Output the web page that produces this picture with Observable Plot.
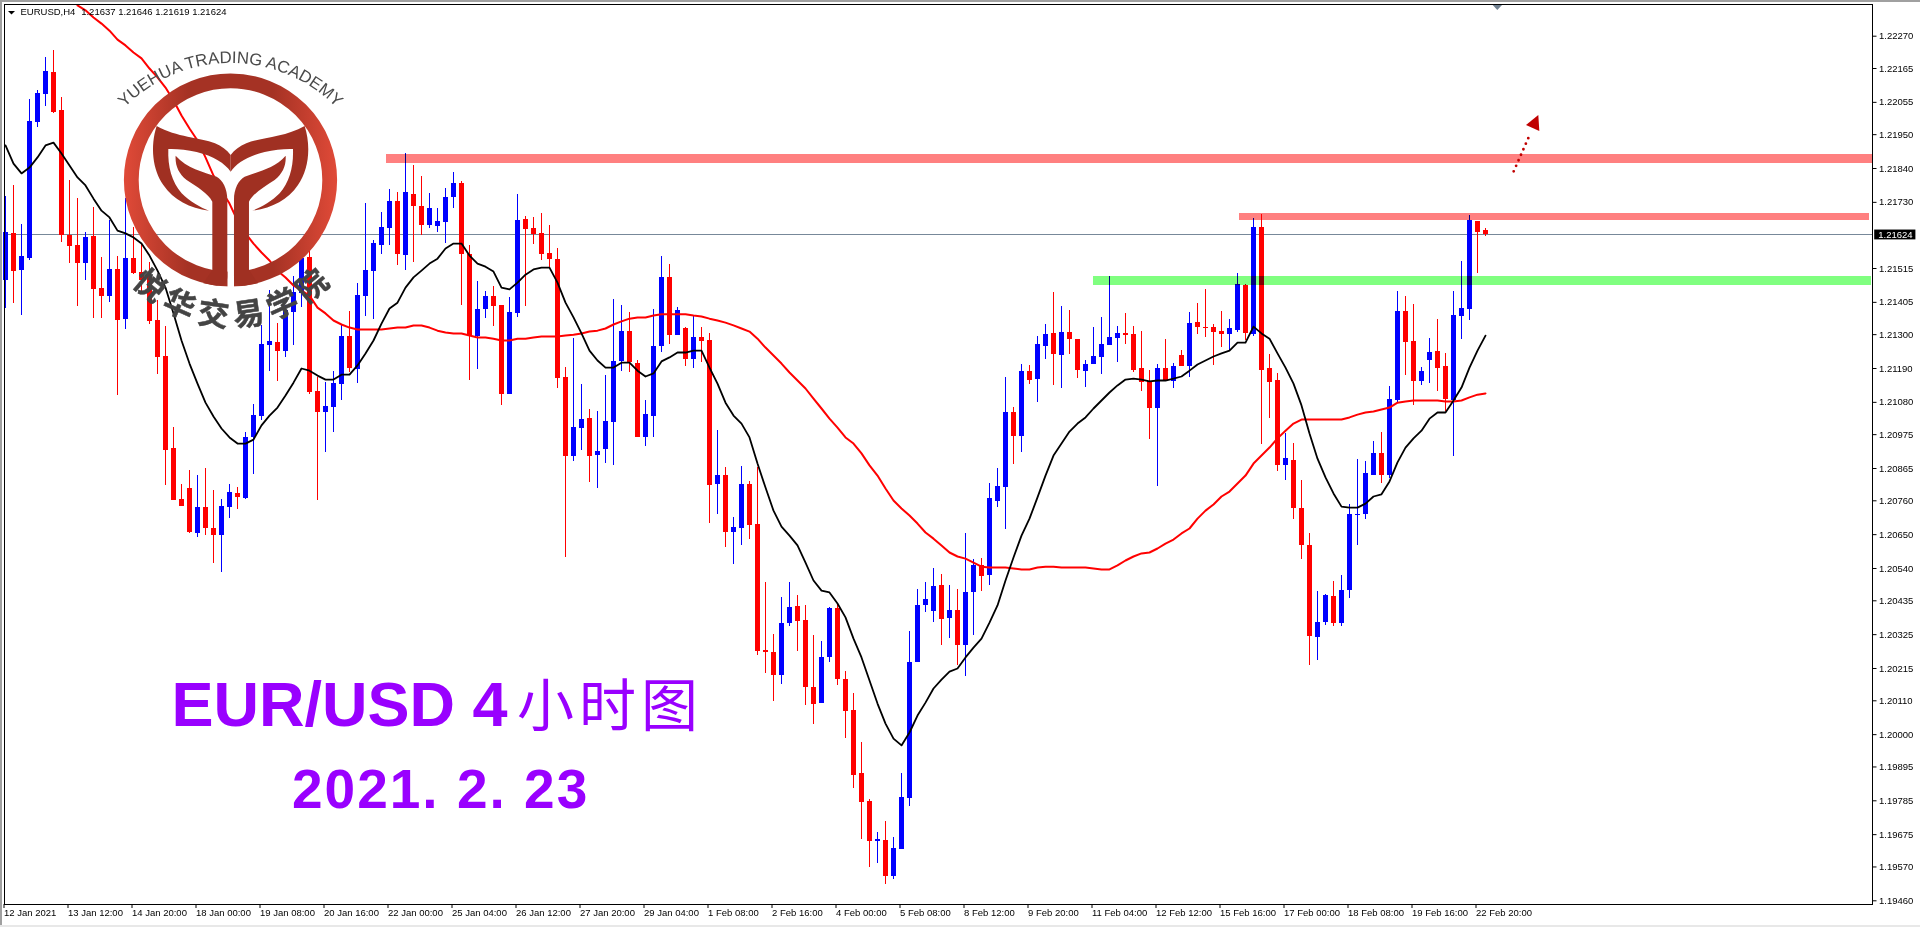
<!DOCTYPE html>
<html><head><meta charset="utf-8">
<style>html,body{margin:0;padding:0;background:#fff;overflow:hidden}
#chrome-top{position:absolute;left:0;top:0;width:1920px;height:2px;background:#a0a0a0}
#chrome-left{position:absolute;left:0;top:0;width:2px;height:927px;background:#a0a0a0}
#chrome-bottom{position:absolute;left:0;top:925px;width:1920px;height:2px;background:#e8e8e8}
svg{display:block}</style>
<script src="https://cdn.jsdelivr.net/npm/d3@7"></script>
<script src="https://cdn.jsdelivr.net/npm/@observablehq/plot@0.6"></script>
</head><body><div id="chart"></div><div id="chrome-top"></div><div id="chrome-left"></div><div id="chrome-bottom"></div>
<script>
const opens=[1.21476,1.21629,1.21508,1.21547,1.21989,1.22080,1.22152,1.22028,1.21622,1.21590,
1.21531,1.21619,1.21450,1.21424,1.21512,1.21349,1.21547,1.21502,1.21489,1.21346,
1.21229,1.20930,1.20764,1.20800,1.20654,1.20738,1.20670,1.20647,1.20738,1.20784,
1.20767,1.20966,1.21034,1.21265,1.21274,1.21245,1.21372,1.21434,1.21551,1.21115,
1.21047,1.21063,1.21138,1.21294,1.21187,1.21424,1.21505,1.21590,1.21645,1.21733,
1.21557,1.21755,1.21716,1.21655,1.21651,1.21664,1.21746,1.21791,1.21560,1.21294,
1.21382,1.21424,1.21395,1.21105,1.21369,1.21674,1.21645,1.21629,1.21564,1.21544,
1.21161,1.20904,1.20995,1.21027,1.20907,1.20927,1.21014,1.21213,1.21310,1.21206,
1.20966,1.21034,1.21261,1.21486,1.21297,1.21320,1.21219,1.21291,1.21281,1.20813,
1.20842,1.20657,1.20670,1.20813,1.20683,1.20273,1.20267,1.20192,1.20361,1.20416,
1.20371,1.20153,1.20101,1.20251,1.20410,1.20179,1.20078,1.19874,1.19783,1.19653,
1.19656,1.19539,1.19627,1.19792,1.20234,1.20420,1.20400,1.20485,1.20377,1.20403,
1.20290,1.20462,1.20550,1.20517,1.20758,1.20803,1.21047,1.20969,1.21180,1.21154,
1.21261,1.21304,1.21232,1.21307,1.21284,1.21180,1.21203,1.21226,1.21265,1.21287,
1.21304,1.21300,1.21190,1.21148,1.21060,1.21190,1.21148,1.21232,1.21196,1.21339,
1.21323,1.21323,1.21310,1.21300,1.21313,1.21460,1.21300,1.21648,1.21190,1.21151,
1.20875,1.20891,1.20735,1.20615,1.20316,1.20364,1.20449,1.20361,1.20468,1.20712,
1.20715,1.20842,1.20914,1.20842,1.21086,1.21375,1.21278,1.21148,1.21216,1.21245,
1.21196,1.21086,1.21359,1.21382,1.21668,1.21637];
const closes=[1.21632,1.21505,1.21554,1.21993,1.22084,1.22155,1.22022,1.21622,1.21586,1.21531,
1.21616,1.21447,1.21424,1.21512,1.21346,1.21547,1.21499,1.21476,1.21343,1.21226,
1.20923,1.20761,1.20741,1.20657,1.20738,1.20670,1.20647,1.20741,1.20787,1.20771,
1.20966,1.21037,1.21268,1.21278,1.21245,1.21378,1.21437,1.21547,1.21112,1.21047,
1.21066,1.21141,1.21294,1.21190,1.21427,1.21508,1.21596,1.21648,1.21733,1.21560,
1.21762,1.21716,1.21655,1.21710,1.21668,1.21746,1.21791,1.21560,1.21294,1.21382,
1.21424,1.21391,1.21105,1.21372,1.21671,1.21642,1.21625,1.21560,1.21544,1.21157,
1.20904,1.20998,1.21024,1.20904,1.20920,1.21018,1.21213,1.21310,1.21209,1.20966,
1.21040,1.21261,1.21486,1.21297,1.21378,1.21219,1.21291,1.21278,1.20810,1.20842,
1.20657,1.20673,1.20813,1.20680,1.20270,1.20267,1.20192,1.20361,1.20413,1.20368,
1.20153,1.20098,1.20251,1.20410,1.20179,1.20075,1.19867,1.19779,1.19653,1.19659,
1.19539,1.19630,1.19796,1.20234,1.20420,1.20439,1.20481,1.20374,1.20403,1.20290,
1.20462,1.20550,1.20514,1.20767,1.20806,1.21047,1.20969,1.21180,1.21151,1.21268,
1.21300,1.21235,1.21307,1.21284,1.21183,1.21203,1.21229,1.21268,1.21291,1.21304,
1.21297,1.21183,1.21144,1.21060,1.21190,1.21151,1.21196,1.21196,1.21336,1.21323,
1.21320,1.21307,1.21300,1.21320,1.21463,1.21304,1.21648,1.21183,1.21144,1.20875,
1.20897,1.20735,1.20615,1.20319,1.20364,1.20452,1.20361,1.20468,1.20715,1.20715,
1.20849,1.20914,1.20842,1.21089,1.21375,1.21274,1.21148,1.21180,1.21242,1.21190,
1.21089,1.21362,1.21385,1.21671,1.21632,1.21624];
const highs=[1.21749,1.21785,1.21658,1.22064,1.22093,1.22201,1.22223,1.22071,1.21801,1.21742,
1.21632,1.21713,1.21551,1.21671,1.21554,1.21742,1.21648,1.21593,1.21534,1.21411,
1.21326,1.20998,1.20813,1.20858,1.20842,1.20865,1.20793,1.20764,1.20813,1.20803,
1.20982,1.21073,1.21330,1.21443,1.21336,1.21395,1.21489,1.21573,1.21573,1.21161,
1.21144,1.21180,1.21330,1.21375,1.21466,1.21726,1.21606,1.21697,1.21772,1.21762,
1.21889,1.21850,1.21814,1.21759,1.21710,1.21775,1.21827,1.21798,1.21590,1.21473,
1.21440,1.21456,1.21395,1.21421,1.21755,1.21684,1.21681,1.21694,1.21655,1.21580,
1.21193,1.21287,1.21138,1.21057,1.21050,1.21167,1.21414,1.21395,1.21372,1.21216,
1.21086,1.21382,1.21554,1.21528,1.21388,1.21323,1.21359,1.21323,1.21304,1.20988,
1.20868,1.20706,1.20871,1.20823,1.20868,1.20494,1.20325,1.20446,1.20494,1.20452,
1.20420,1.20322,1.20303,1.20413,1.20426,1.20205,1.20134,1.19974,1.19789,1.19682,
1.19718,1.19666,1.19874,1.20335,1.20472,1.20494,1.20540,1.20520,1.20485,1.20472,
1.20654,1.20569,1.20572,1.20816,1.20865,1.21161,1.21063,1.21203,1.21200,1.21294,
1.21333,1.21437,1.21391,1.21378,1.21284,1.21216,1.21323,1.21356,1.21489,1.21326,
1.21369,1.21326,1.21310,1.21183,1.21203,1.21284,1.21206,1.21248,1.21372,1.21401,
1.21447,1.21333,1.21375,1.21349,1.21499,1.21463,1.21677,1.21690,1.21235,1.21174,
1.20979,1.20946,1.20826,1.20654,1.20465,1.20455,1.20498,1.20517,1.20748,1.20894,
1.20888,1.20953,1.20982,1.21131,1.21440,1.21424,1.21398,1.21193,1.21287,1.21349,
1.21239,1.21440,1.21538,1.21687,1.21668,1.21646];
const lows=[1.21385,1.21401,1.21362,1.21541,1.21973,1.22041,1.22019,1.21599,1.21531,1.21391,
1.21476,1.21352,1.21352,1.21404,1.21102,1.21317,1.21495,1.21434,1.21333,1.21170,
1.20810,1.20761,1.20741,1.20654,1.20641,1.20647,1.20556,1.20527,1.20702,1.20732,
1.20764,1.20845,1.21021,1.21180,1.21148,1.21226,1.21265,1.21388,1.21105,1.20761,
1.20917,1.20982,1.21086,1.21177,1.21141,1.21359,1.21349,1.21560,1.21590,1.21525,
1.21508,1.21534,1.21622,1.21645,1.21632,1.21596,1.21710,1.21395,1.21151,1.21187,
1.21352,1.21326,1.21070,1.21105,1.21356,1.21391,1.21593,1.21541,1.21515,1.21125,
1.20576,1.20888,1.20923,1.20819,1.20800,1.20881,1.20875,1.21180,1.21177,1.20966,
1.20936,1.20966,1.21242,1.21268,1.21297,1.21196,1.21190,1.21209,1.20686,1.20715,
1.20608,1.20553,1.20615,1.20634,1.20257,1.20199,1.20108,1.20163,1.20351,1.20270,
1.20095,1.20033,1.20101,1.20234,1.20160,1.19987,1.19825,1.19659,1.19568,1.19581,
1.19513,1.19529,1.19627,1.19766,1.20234,1.20397,1.20364,1.20290,1.20312,1.20225,
1.20189,1.20322,1.20465,1.20485,1.20738,1.20667,1.20878,1.20917,1.21138,1.21079,
1.21219,1.21135,1.21125,1.21235,1.21157,1.21128,1.21203,1.21170,1.21265,1.21209,
1.21268,1.21177,1.21115,1.20959,1.20806,1.21151,1.21125,1.21196,1.21161,1.21300,
1.21291,1.21200,1.21258,1.21248,1.21307,1.21281,1.21294,1.20943,1.21027,1.20855,
1.20826,1.20699,1.20569,1.20225,1.20241,1.20355,1.20351,1.20351,1.20442,1.20615,
1.20699,1.20842,1.20816,1.20832,1.21079,1.21167,1.21070,1.21135,1.21141,1.21115,
1.21050,1.20904,1.21284,1.21346,1.21499,1.21619];
const maBlack=[1.21915,1.21856,1.21824,1.21843,1.21876,1.21915,1.21924,1.21889,1.21850,1.21811,
1.21785,1.21742,1.21703,1.21681,1.21638,1.21629,1.21616,1.21596,1.21557,1.21508,
1.21453,1.21369,1.21281,1.21206,1.21141,1.21079,1.21034,1.20995,1.20966,1.20946,
1.20946,1.20959,1.21005,1.21037,1.21063,1.21102,1.21144,1.21190,1.21183,1.21167,
1.21154,1.21154,1.21170,1.21170,1.21200,1.21239,1.21281,1.21336,1.21385,1.21404,
1.21453,1.21486,1.21508,1.21531,1.21547,1.21580,1.21596,1.21596,1.21557,1.21531,
1.21521,1.21505,1.21453,1.21447,1.21469,1.21495,1.21512,1.21518,1.21518,1.21469,
1.21404,1.21356,1.21304,1.21248,1.21216,1.21193,1.21193,1.21209,1.21209,1.21183,
1.21164,1.21174,1.21213,1.21226,1.21242,1.21242,1.21248,1.21248,1.21193,1.21141,
1.21079,1.21037,1.21011,1.20966,1.20881,1.20803,1.20728,1.20676,1.20647,1.20615,
1.20559,1.20501,1.20468,1.20462,1.20426,1.20381,1.20312,1.20251,1.20176,1.20101,
1.20036,1.19987,1.19965,1.20007,1.20062,1.20104,1.20150,1.20179,1.20205,1.20215,
1.20251,1.20283,1.20312,1.20364,1.20420,1.20501,1.20576,1.20647,1.20702,1.20771,
1.20842,1.20907,1.20946,1.20985,1.21011,1.21031,1.21060,1.21086,1.21112,1.21135,
1.21154,1.21157,1.21154,1.21148,1.21151,1.21151,1.21157,1.21164,1.21183,1.21203,
1.21216,1.21229,1.21239,1.21248,1.21274,1.21274,1.21326,1.21304,1.21287,1.21239,
1.21193,1.21141,1.21070,1.20979,1.20897,1.20836,1.20784,1.20741,1.20738,1.20738,
1.20751,1.20774,1.20781,1.20823,1.20885,1.20933,1.20963,1.20988,1.21027,1.21047,
1.21047,1.21086,1.21128,1.21193,1.21248,1.21297];
const maRedStart=9;
const maRed=[1.22370,1.22354,1.22331,1.22311,1.22288,1.22259,1.22240,1.22217,1.22198,1.22165,
1.22136,1.22103,1.22061,1.22012,1.21970,1.21931,1.21876,1.21817,1.21768,1.21726,
1.21671,1.21629,1.21596,1.21567,1.21541,1.21508,1.21486,1.21460,1.21443,1.21427,
1.21388,1.21369,1.21346,1.21333,1.21323,1.21317,1.21317,1.21317,1.21317,1.21320,
1.21323,1.21323,1.21330,1.21330,1.21323,1.21313,1.21307,1.21304,1.21304,1.21297,
1.21291,1.21291,1.21287,1.21281,1.21281,1.21287,1.21287,1.21291,1.21294,1.21294,
1.21294,1.21297,1.21300,1.21304,1.21310,1.21313,1.21320,1.21333,1.21343,1.21352,
1.21356,1.21356,1.21362,1.21366,1.21366,1.21366,1.21366,1.21362,1.21359,1.21352,
1.21346,1.21339,1.21330,1.21320,1.21310,1.21287,1.21258,1.21232,1.21206,1.21177,
1.21151,1.21125,1.21092,1.21060,1.21027,1.20998,1.20966,1.20946,1.20914,1.20875,
1.20842,1.20800,1.20761,1.20735,1.20712,1.20686,1.20657,1.20637,1.20615,1.20592,
1.20579,1.20572,1.20559,1.20546,1.20543,1.20543,1.20543,1.20540,1.20537,1.20537,
1.20543,1.20546,1.20546,1.20543,1.20543,1.20543,1.20543,1.20540,1.20537,1.20537,
1.20550,1.20566,1.20579,1.20589,1.20592,1.20605,1.20621,1.20634,1.20654,1.20670,
1.20702,1.20728,1.20748,1.20774,1.20790,1.20816,1.20842,1.20881,1.20907,1.20933,
1.20963,1.20988,1.21011,1.21024,1.21024,1.21024,1.21024,1.21024,1.21024,1.21031,
1.21040,1.21047,1.21050,1.21057,1.21063,1.21079,1.21083,1.21086,1.21086,1.21086,
1.21086,1.21083,1.21083,1.21086,1.21096,1.21105,1.21109];
const priceTicks=[1.2227,1.22165,1.22055,1.2195,1.2184,1.2173,1.21515,1.21405,1.213,1.2119,1.2108,1.20975,1.20865,1.2076,1.2065,1.2054,1.20435,1.20325,1.20215,1.2011,1.2,1.19895,1.19785,1.19675,1.1957,1.1946];
const timeLabels=["12 Jan 2021","13 Jan 12:00","14 Jan 20:00","18 Jan 00:00","19 Jan 08:00","20 Jan 16:00","22 Jan 00:00","25 Jan 04:00","26 Jan 12:00","27 Jan 20:00","29 Jan 04:00","1 Feb 08:00","2 Feb 16:00","4 Feb 00:00","5 Feb 08:00","8 Feb 12:00","9 Feb 20:00","11 Feb 04:00","12 Feb 12:00","15 Feb 16:00","17 Feb 00:00","18 Feb 08:00","19 Feb 16:00","22 Feb 20:00"];
const zones=[
 {start:47.6,end:233.4,low:1.21856,high:1.21885,color:"#ff8080"},
 {start:154.25,end:233,low:1.21671,high:1.21694,color:"#ff8080"},
 {start:136,end:233.25,low:1.2146,high:1.21489,color:"#80ff80"}];
const lastPrice=1.21624;

const candles=opens.map((o,i)=>({i,open:o,close:closes[i],high:highs[i],low:lows[i],color:closes[i]>=o?"#0000ff":"#ff0000"}));
const ink="#000";
const crisp={shapeRendering:"crispEdges"};

function overlay(){
  const g=d3.create("svg:g");
  const defs=g.append("defs");
  const grad=defs.append("linearGradient").attr("id","ring").attr("gradientUnits","userSpaceOnUse").attr("x1",124).attr("x2",337).attr("y1",0).attr("y2",0);
  grad.append("stop").attr("offset","0").attr("stop-color","#e04a38");
  grad.append("stop").attr("offset","0.3").attr("stop-color","#a53224");
  grad.append("stop").attr("offset","0.7").attr("stop-color","#a53224");
  grad.append("stop").attr("offset","1").attr("stop-color","#e04a38");
  const lg=g.append("g");
  lg.append("circle").attr("cx",230.5).attr("cy",180).attr("r",99.2).attr("fill","none").attr("stroke","url(#ring)").attr("stroke-width",14.8);
  lg.append("rect").attr("x",227.5).attr("y",266).attr("width",6.5).attr("height",22).attr("fill","#fff");
  const half=g.append("g").attr("transform","scale(0.3333)");
  const leaf=[
   "M470 378 C530 412 600 412 645 430 C665 438 680 450 692 465 L692 515 C675 490 640 468 590 456 C560 449 530 446 505 447 C503 500 515 545 545 580 C570 605 600 622 627 632 C570 625 520 600 490 555 C458 510 450 440 470 378 Z",
   "M527 467 C560 505 610 515 650 530 C668 540 682 565 682 600 L682 830 C682 848 672 857 650 857 L610 850 L637 810 L637 605 C625 580 590 560 560 540 C535 520 525 495 527 467 Z"];
  for(const m of [false,true]){
    const s=half.append("g").attr("fill","#a03022");
    if(m) s.attr("transform","translate(1384,0) scale(-1,1)");
    leaf.forEach(d=>s.append("path").attr("d",d));
  }
  defs.append("path").attr("id","arcTop").attr("d","M 82.5 211 A 148 148 0 0 1 378.5 211");
  g.append("text").attr("font-family","Liberation Sans, Arial, sans-serif").attr("font-size",16.8).attr("fill","#4a4a4a")
   .attr("text-anchor","middle").append("textPath").attr("href","#arcTop").attr("startOffset","50%").text("YUEHUA TRADING ACADEMY");
  Array.from("悦华交易学院").forEach((ch,k)=>{
    const th=-40+16*k, a=th*Math.PI/180;
    const cx=231+126*Math.sin(a), cy=189+126*Math.cos(a);
    g.append("text").attr("transform",`translate(${cx},${cy}) rotate(${-th})`).attr("text-anchor","middle").attr("dy","0.36em")
     .attr("font-family","Noto Sans CJK SC").attr("font-weight",700).attr("font-size",31).attr("fill","#444").attr("stroke","#444").attr("stroke-width",0.5).text(ch);
  });
  g.append("line").attr("x1",1513.7).attr("y1",171.3).attr("x2",1530.7).attr("y2",132.7).attr("stroke","#c00000").attr("stroke-width",2.8).attr("stroke-linecap","round").attr("stroke-dasharray","0 6.03");
  g.append("path").attr("d","M1538.3 115 L1526 125 L1539.3 131 Z").attr("fill","#c00000");
  g.append("path").attr("d","M1492.7 5 L1502 5 L1497.3 10 Z").attr("fill","#708090");
  g.append("path").attr("d","M8 11 L15 11 L11.5 14.5 Z").attr("fill","#000");
  const head=g.append("g").attr("fill","#9900ff").attr("text-anchor","start");
  head.append("text").attr("x",171.5).attr("y",726).attr("font-family","Liberation Sans").attr("font-weight",700).attr("font-size",63).text("EUR/USD 4");
  head.append("text").attr("x",517).attr("y",726).attr("font-family","Noto Sans CJK SC").attr("font-weight",400).attr("font-size",57).attr("letter-spacing",5).text("小时图");
  head.append("text").attr("x",292).attr("y",808).attr("font-family","Liberation Sans").attr("font-weight",700).attr("font-size",55).attr("letter-spacing",2).text("2021. 2. 23");
  return g.node();
}

const plot=Plot.plot({
  width:1920,height:927,
  marginLeft:4,marginRight:48,marginTop:4,marginBottom:23,
  style:{background:"#fff",fontFamily:"'Liberation Sans',Arial,sans-serif",fontSize:"9.5px",color:"#000"},
  x:{type:"linear",domain:[0,233],range:[5,5+233*8]},
  y:{type:"linear",domain:[1.1946,1.2227],range:[900.3,35.7]},
  color:{type:"identity"},
  marks:[
    Plot.ruleY([lastPrice],{x1:0,x2:233.4,stroke:"#778899",strokeWidth:1,...crisp}),
    Plot.ruleX(candles,{x:"i",y1:"low",y2:"high",stroke:"color",strokeWidth:1,...crisp}),
    Plot.ruleX(candles,{x:"i",y1:"open",y2:"close",stroke:"color",strokeWidth:5,...crisp}),
    Plot.rect(zones,{x1:"start",x2:"end",y1:"low",y2:"high",fill:"color",mixBlendMode:"multiply",...crisp}),
    Plot.line(maRed,{x:(d,i)=>i+maRedStart,y:d=>d,stroke:"#ff0000",strokeWidth:2}),
    Plot.line(maBlack,{x:(d,i)=>i,y:d=>d,stroke:"#000",strokeWidth:1.8}),
    Plot.frame({stroke:ink,strokeWidth:1,...crisp}),
    Plot.axisY({anchor:"right",ticks:priceTicks,tickFormat:d=>d.toFixed(5),tickSize:3.5,tickPadding:3,label:null,stroke:ink,fill:ink,fontSize:9.5,fontVariant:"normal"}),
    Plot.axisX({anchor:"bottom",ticks:timeLabels.map((d,i)=>i*8),tickFormat:d=>timeLabels[d/8],tickSize:4,tickPadding:1,label:null,stroke:ink,fill:ink,fontSize:9.5,textAnchor:"start",dx:-1.5,fontVariant:"normal"}),
    Plot.rect([lastPrice],{x1:233.65,x2:238.8,y1:d=>d-0.00016,y2:d=>d+0.00016,fill:"#000"}),
    Plot.text([lastPrice],{x:234.1,y:d=>d,text:d=>d.toFixed(5),fill:"#fff",fontSize:9.5,textAnchor:"start",fontVariant:"normal"}),
    Plot.text(["EURUSD,H4"],{frameAnchor:"top-left",dx:16,dy:4,text:d=>d,fill:"#000",fontSize:9.5,textAnchor:"start",lineAnchor:"top"}),
    Plot.text(["1.21637 1.21646 1.21619 1.21624"],{frameAnchor:"top-left",dx:76.7,dy:4,text:d=>d,fill:"#000",fontSize:9.5,textAnchor:"start",lineAnchor:"top"}),
    overlay
  ]
});
document.getElementById("chart").appendChild(plot);
</script></body></html>
